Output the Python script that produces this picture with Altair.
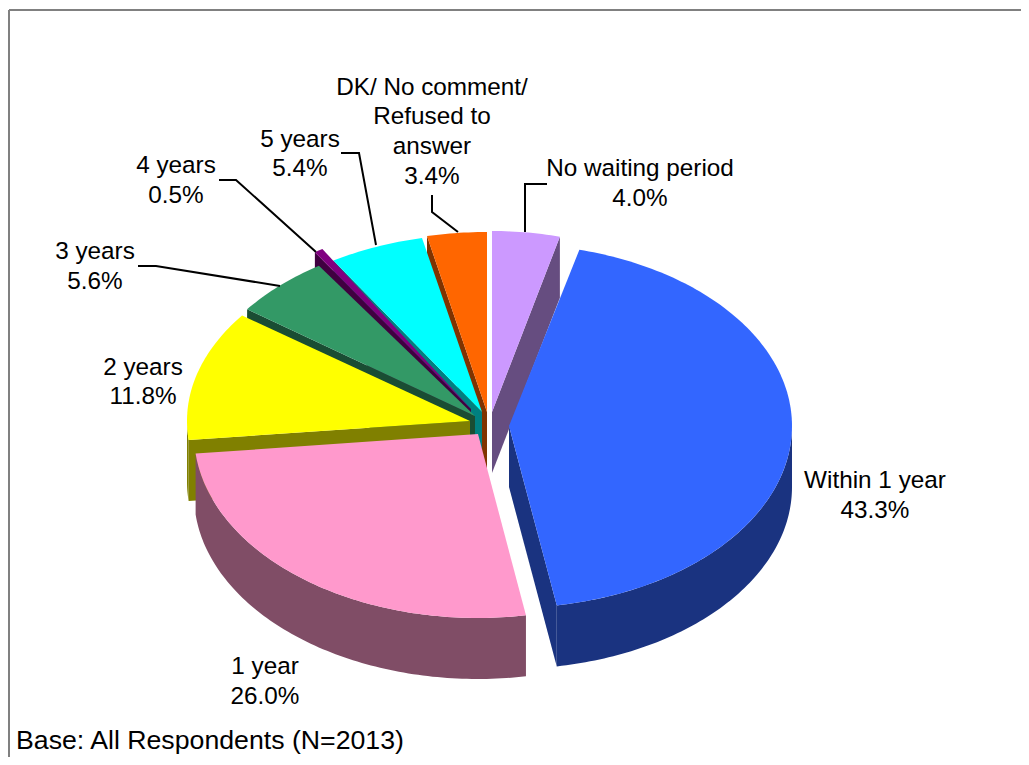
import math
import altair as alt

# ---- values ----
categories = ["No waiting period", "Within 1 year", "1 year", "2 years", "3 years",
              "4 years", "5 years", "DK/ No comment/ Refused to answer"]
shares = [4.0, 43.3, 26.0, 11.8, 5.6, 0.5, 5.4, 3.4]
top_colors = ["#CC99FF", "#3366FF", "#FF99CC", "#FFFF00", "#339966", "#800080", "#00FFFF", "#FF6600"]
side_colors = ["#664D80", "#1A3380", "#804D66", "#808000", "#1A4D33", "#400040", "#008080", "#803300"]
# exploded wedge geometry (centre x, centre y, radius x, radius y)
centres_x = [492, 509, 478, 470, 475, 471, 482, 487]
centres_y = [412, 426, 434, 421, 416, 409, 412, 412]
radii_x = [273, 283, 284, 283, 283, 283, 283, 283]
radii_y = [181, 182, 184, 178, 180, 188, 178, 180]
depth = 61
face_edge = ["end", "end", None, "start", "start", "start", "start", "start"]
draw_order = [0, 7, 6, 5, 4, 3, 1, 2]

label_lines = ["No waiting period", "4.0%", "DK/ No comment/", "Refused to", "answer", "3.4%",
               "5 years", "5.4%", "4 years", "0.5%", "3 years", "5.6%", "2 years", "11.8%",
               "Within 1 year", "43.3%", "1 year", "26.0%"]
label_x = [640, 640, 432, 432, 432, 432, 300, 300, 176, 176, 95, 95, 143, 143, 875, 875, 265, 265]
label_y = [169, 199, 88, 117, 147, 177, 140, 169, 166, 196, 252, 282, 368, 397, 481, 511, 667, 697]

leader_ids = [0, 0, 0, 1, 1, 1, 2, 2, 2, 3, 3, 3, 4, 4, 4]
leader_x = [547, 525, 525, 432, 432, 458, 341, 359, 376, 219, 236, 316, 138, 156, 280]
leader_y = [184, 184, 232, 195, 212, 232, 153, 153, 245, 180, 180, 252, 266, 266, 286]

base_note = "Base: All Respondents (N=2013)"
FONT = "Liberation Sans"
LABEL_SIZE = 24.3
NOTE_SIZE = 26.7

# ---- wedge polygons derived from the shares ----
def pt(i, deg, dy=0):
    t = math.radians(deg)
    return [centres_x[i] + radii_x[i] * math.sin(t), centres_y[i] - radii_y[i] * math.cos(t) + dy]

def feature(ring, fill):
    ring = ring + [ring[0]]
    return {"type": "Feature", "properties": {"fill": fill},
            "geometry": {"type": "Polygon", "coordinates": [ring]}}

starts, total = [], 0.0
for s in shares:
    starts.append(total)
    total += s * 3.6

def arc(i, a, b):
    n = max(2, int(abs(b - a)) + 2)
    return [a + (b - a) * k / (n - 1) for k in range(n)]

faces, rims, tops = [], [], []
for i in draw_order:
    a, b = starts[i], starts[i] + shares[i] * 3.6
    apex = [centres_x[i], centres_y[i]]
    if face_edge[i]:
        e = a if face_edge[i] == "start" else b
        faces.append(feature([apex, pt(i, e), pt(i, e, depth), [apex[0], apex[1] + depth]], side_colors[i]))
    lo, hi = max(a, 90), min(b, 270)
    if lo < hi:
        angles = arc(i, lo, hi)
        rims.append(feature([pt(i, d) for d in angles] + [pt(i, d, depth) for d in reversed(angles)], side_colors[i]))
    tops.append(feature([apex] + [pt(i, d) for d in arc(i, a, b)], top_colors[i]))

features = faces + rims + tops

W, H = 1013, 749
xs = alt.Scale(domain=[8, 8 + W], range=[0, W])
ys = alt.Scale(domain=[8, 8 + H], range=[0, H])
X = lambda f: alt.X(f, type="quantitative", scale=xs, axis=None)
Y = lambda f: alt.Y(f, type="quantitative", scale=ys, axis=None)

pie = alt.Chart(alt.InlineData(values={"type": "FeatureCollection", "features": features},
                               format=alt.DataFormat(property="features", type="json"))
                ).mark_geoshape(strokeWidth=0).encode(
    color=alt.Color("properties.fill:N", scale=None, legend=None)
).project(type="identity", scale=1, translate=[-8, -8])

leader_rows = [{"id": a, "seq": k, "x": b, "y": c}
               for k, (a, b, c) in enumerate(zip(leader_ids, leader_x, leader_y))]
leaders = alt.Chart(alt.Data(values=leader_rows)).mark_line(color="#000000", strokeWidth=2).encode(
    x=X("x"), y=Y("y"), detail="id:N", order="seq:Q")

label_rows = [{"t": t, "x": x, "y": y} for t, x, y in zip(label_lines, label_x, label_y)]
labels = alt.Chart(alt.Data(values=label_rows)).mark_text(
    font=FONT, fontSize=LABEL_SIZE, color="#000000", align="center", baseline="middle"
).encode(x=X("x"), y=Y("y"), text="t:N")

note = alt.Chart(alt.Data(values=[{"t": base_note, "x": 16, "y": 741}])).mark_text(
    font=FONT, fontSize=NOTE_SIZE, color="#000000", align="left", baseline="middle"
).encode(x=X("x"), y=Y("y"), text="t:N")

border = alt.Chart(alt.Data(values=[{"x": 9, "x2": 1021, "y": 10, "y2": 10}, {"x": 9, "x2": 9, "y": 10, "y2": 757}])
                   ).mark_rule(color="#808080", strokeWidth=2).encode(
    x=X("x"), x2="x2:Q", y=Y("y"), y2="y2:Q")

chart = alt.layer(pie, border, leaders, labels, note).properties(
    width=W, height=H, padding=0, background="#FFFFFF"
).configure_view(stroke=None)
chart = chart.properties(autosize=alt.AutoSizeParams(type="none"))

chart.save("out.html", embed_options={"renderer": "svg", "actions": False})
